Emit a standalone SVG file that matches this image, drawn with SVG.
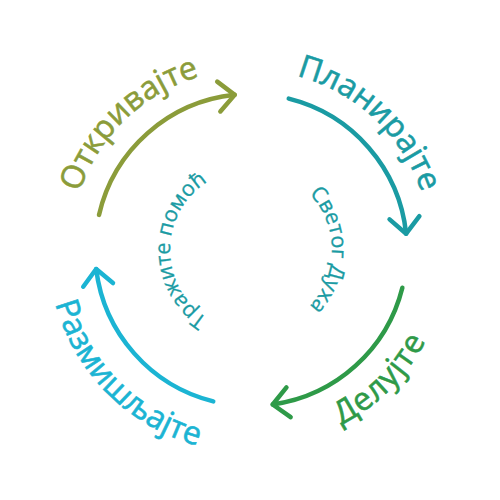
<svg xmlns="http://www.w3.org/2000/svg" xmlns:xlink="http://www.w3.org/1999/xlink" width="500" height="500" viewBox="0 0 500 500">
<style>
.arc{fill:none;stroke-width:4.5;stroke-linecap:round;stroke-linejoin:round}
.lbl{font-family:"Open Sans","Noto Sans","DejaVu Sans",sans-serif;font-size:32px;stroke-width:0.6}
.inner{font-family:"Open Sans","Noto Sans","DejaVu Sans",sans-serif;font-size:21.5px;fill:#1a9ba3;stroke:#1a9ba3;stroke-width:0.3}
</style>
<defs>
<marker id="ahG" markerUnits="userSpaceOnUse" viewBox="-25 -25 50 50" markerWidth="50" markerHeight="50" refX="0" refY="0" orient="auto"><path d="M-16,-15 L0,0 L-16,15" fill="none" stroke="#8b9c3a" stroke-width="4.5" stroke-linecap="round" stroke-linejoin="round"/></marker>
<marker id="ahT" markerUnits="userSpaceOnUse" viewBox="-25 -25 50 50" markerWidth="50" markerHeight="50" refX="0" refY="0" orient="auto"><path d="M-16,-15 L0,0 L-16,15" fill="none" stroke="#1a9ba3" stroke-width="4.5" stroke-linecap="round" stroke-linejoin="round"/></marker>
<marker id="ahD" markerUnits="userSpaceOnUse" viewBox="-25 -25 50 50" markerWidth="50" markerHeight="50" refX="0" refY="0" orient="auto"><path d="M-16,-15 L0,0 L-16,15" fill="none" stroke="#2e9a48" stroke-width="4.5" stroke-linecap="round" stroke-linejoin="round"/></marker>
<marker id="ahC" markerUnits="userSpaceOnUse" viewBox="-25 -25 50 50" markerWidth="50" markerHeight="50" refX="0" refY="0" orient="auto"><path d="M-16,-15 L0,0 L-16,15" fill="none" stroke="#1bb4d3" stroke-width="4.5" stroke-linecap="round" stroke-linejoin="round"/></marker>
<path id="pTL" d="M75.38,293.79 A181,181 0 0 1 300.89,76.01"/>
<path id="pTR" d="M198.37,77.87 A180,180 0 0 1 426.39,290.49"/>
<path id="pBR" d="M200.01,440.29 A197,197 0 0 0 441.29,199.01"/>
<path id="pBL" d="M54.92,197.46 A203,203 0 0 0 303.54,446.08"/>
<path id="pIL" d="M251,331 A81,81 0 0 1 251,169"/>
<path id="pIR" d="M251,169 A81,81 0 0 1 251,331"/>
</defs>
<rect width="500" height="500" fill="#ffffff"/>
<g id="connectors">
<path class="arc" stroke="#8b9c3a" d="M99,214.9 A156,156 0 0 1 234.7,94.85" marker-end="url(#ahG)"/>
<path class="arc" stroke="#1a9ba3" d="M288.74,98.63 A156,156 0 0 1 406.15,233.69" marker-end="url(#ahT)"/>
<path class="arc" stroke="#2e9a48" d="M402.37,287.74 A156,156 0 0 1 272.71,404.48" marker-end="url(#ahD)"/>
<path class="arc" stroke="#1bb4d3" d="M213.26,401.37 A156,156 0 0 1 96.16,269.01" marker-end="url(#ahC)"/>
</g>
<g id="node-otkrivajte"><text class="lbl" fill="#8b9c3a" stroke="#8b9c3a"><textPath xlink:href="#pTL" href="#pTL" startOffset="50%" text-anchor="middle">Откривајте</textPath></text></g>
<g id="node-planirajte"><text class="lbl" fill="#1a9ba3" stroke="#1a9ba3"><textPath xlink:href="#pTR" href="#pTR" startOffset="50%" text-anchor="middle">Планирајте</textPath></text></g>
<g id="node-delujte"><text class="lbl" fill="#2e9a48" stroke="#2e9a48"><textPath xlink:href="#pBR" href="#pBR" startOffset="50%" text-anchor="middle" letter-spacing="1">Делујте</textPath></text></g>
<g id="node-razmisljajte"><text class="lbl" fill="#1bb4d3" stroke="#1bb4d3"><textPath xlink:href="#pBL" href="#pBL" startOffset="50%" text-anchor="middle">Размишљајте</textPath></text></g>
<g id="node-trazite"><text class="inner"><textPath xlink:href="#pIL" href="#pIL" startOffset="50%" text-anchor="middle">Тражите помоћ</textPath></text></g>
<g id="node-svetog"><text class="inner"><textPath xlink:href="#pIR" href="#pIR" startOffset="50%" text-anchor="middle">Светог Духа</textPath></text></g>
</svg>
